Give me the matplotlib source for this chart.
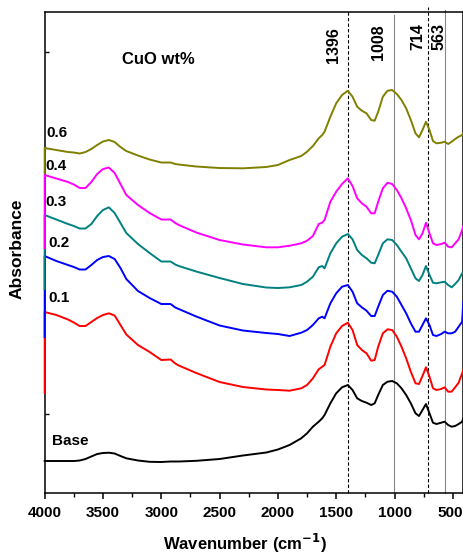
import numpy as np
import matplotlib
matplotlib.use("Agg")
from matplotlib import pyplot as plt
from matplotlib import transforms
from matplotlib.ticker import MultipleLocator

plt.rcParams['font.family'] = ['Liberation Sans', 'DejaVu Sans']
plt.rcParams['font.weight'] = 'bold'

# FTIR spectra, offset vertically (absorbance, arbitrary units)
wavenumber = [4000, 3900, 3800, 3750, 3700, 3650, 3600, 3550, 3500, 3450,
              3400, 3350, 3300, 3200, 3100, 3000, 2920, 2880, 2850, 2700,
              2500, 2300, 2100, 2000,
              1900, 1800, 1750, 1700, 1650, 1620, 1600, 1550, 1500, 1450,
              1400, 1360, 1320, 1280, 1240, 1200, 1170, 1140, 1100, 1060,
              1020, 980, 940, 900, 860, 820, 790, 760, 730, 700,
              670, 640, 600, 570, 540, 510, 480, 450, 420, 410]

base = [0.32, 0.32, 0.32, 0.32, 0.325, 0.34, 0.365, 0.39, 0.40, 0.403,
        0.395, 0.37, 0.347, 0.325, 0.312, 0.31, 0.315, 0.315, 0.315, 0.322,
        0.34, 0.375, 0.405, 0.435,
        0.48, 0.547, 0.597, 0.663, 0.713, 0.747, 0.78, 0.897, 0.997, 1.057,
        1.08, 1.03, 0.947, 0.92, 0.903, 0.88, 0.897, 0.98, 1.08, 1.113,
        1.12, 1.097, 1.047, 0.98, 0.897, 0.797, 0.77, 0.83, 0.89, 0.797,
        0.703, 0.69, 0.703, 0.713, 0.68, 0.663, 0.67, 0.69, 0.713, 0.747]

cuo_01 = [1.81, 1.78, 1.735, 1.705, 1.67, 1.67, 1.71, 1.75, 1.78, 1.797,
          1.775, 1.68, 1.585, 1.48, 1.41, 1.33, 1.335, 1.295, 1.275, 1.20,
          1.11, 1.06, 1.035, 1.03,
          1.023, 1.047, 1.08, 1.147, 1.237, 1.263, 1.28, 1.463, 1.597, 1.67,
          1.703, 1.63, 1.48, 1.43, 1.397, 1.323, 1.33, 1.463, 1.597, 1.637,
          1.63, 1.563, 1.463, 1.347, 1.213, 1.097, 1.09, 1.17, 1.257, 1.163,
          1.047, 1.03, 1.04, 1.057, 1.013, 1.013, 1.057, 1.103, 1.197, 1.23]

cuo_02 = [2.37, 2.32, 2.28, 2.26, 2.235, 2.235, 2.28, 2.33, 2.36, 2.37,
          2.34, 2.25, 2.14, 2.02, 1.95, 1.89, 1.89, 1.855, 1.84, 1.765,
          1.675, 1.625, 1.60, 1.59,
          1.57, 1.603, 1.63, 1.68, 1.747, 1.763, 1.747, 1.897, 1.997, 2.063,
          2.08, 2.013, 1.897, 1.857, 1.823, 1.77, 1.77, 1.863, 1.98, 2.023,
          2.013, 1.963, 1.88, 1.797, 1.697, 1.613, 1.613, 1.68, 1.747, 1.68,
          1.58, 1.57, 1.59, 1.613, 1.597, 1.597, 1.613, 1.663, 1.713, 1.913]

cuo_03 = [2.78, 2.735, 2.69, 2.67, 2.645, 2.645, 2.69, 2.77, 2.83, 2.857,
          2.80, 2.70, 2.60, 2.49, 2.40, 2.315, 2.315, 2.285, 2.27, 2.215,
          2.15, 2.09, 2.055, 2.05,
          2.057, 2.08, 2.113, 2.163, 2.257, 2.27, 2.247, 2.397, 2.497, 2.563,
          2.59, 2.537, 2.43, 2.38, 2.347, 2.303, 2.297, 2.38, 2.497, 2.537,
          2.53, 2.48, 2.413, 2.347, 2.247, 2.147, 2.12, 2.18, 2.27, 2.18,
          2.103, 2.097, 2.107, 2.113, 2.08, 2.057, 2.09, 2.13, 2.197, 2.21]

cuo_04 = [3.18, 3.145, 3.11, 3.085, 3.05, 3.05, 3.11, 3.19, 3.24, 3.255,
          3.20, 3.09, 2.98, 2.88, 2.80, 2.735, 2.735, 2.70, 2.68, 2.605,
          2.53, 2.485, 2.457, 2.457,
          2.473, 2.497, 2.523, 2.57, 2.69, 2.703, 2.73, 2.913, 3.013, 3.09,
          3.147, 3.07, 2.947, 2.897, 2.863, 2.797, 2.797, 2.913, 3.047, 3.103,
          3.09, 3.03, 2.947, 2.847, 2.73, 2.58, 2.537, 2.597, 2.703, 2.597,
          2.497, 2.48, 2.49, 2.503, 2.463, 2.457, 2.497, 2.537, 2.63, 2.67]

cuo_06 = [3.45, 3.43, 3.41, 3.405, 3.395, 3.41, 3.44, 3.48, 3.515, 3.53,
          3.51, 3.46, 3.42, 3.375, 3.335, 3.305, 3.305, 3.29, 3.285, 3.265,
          3.25, 3.247, 3.26, 3.28,
          3.33, 3.37, 3.413, 3.47, 3.547, 3.58, 3.613, 3.763, 3.897, 3.98,
          4.023, 3.963, 3.863, 3.823, 3.797, 3.73, 3.723, 3.813, 3.963, 4.023,
          4.03, 3.99, 3.93, 3.847, 3.73, 3.597, 3.557, 3.63, 3.713, 3.63,
          3.52, 3.497, 3.503, 3.513, 3.49, 3.513, 3.54, 3.563, 3.58, 3.60]

# first recorded point of each trace (drop at 4000 cm-1)
edge_low = {'0.1': 1.00, '0.2': 1.56, '0.3': 2.04, '0.4': 2.45, '0.6': 3.20}

series = [('Base', base, 'black'),
          ('0.1', cuo_01, 'red'),
          ('0.2', cuo_02, 'blue'),
          ('0.3', cuo_03, '#008080'),
          ('0.4', cuo_04, 'magenta'),
          ('0.6', cuo_06, '#808000')]

label_pos = {'0.6': (0.005, 0.749), '0.4': (0.001, 0.680), '0.3': (0.001, 0.606),
             '0.2': (0.009, 0.520), '0.1': (0.009, 0.405), 'Base': (0.017, 0.109)}

peaks = [1396, 1008, 714, 563]
peak_styles = {1396: ('black', (0, (3, 2)), 1.002),
               1008: ('#888888', '-', 0.994),
               714: ('black', (0, (3, 2)), 1.010),
               563: ('#888888', '-', 1.004)}
peak_label_pos = {1396: (0.689, 0.931), 1008: (0.797, 0.938),
                  714: (0.892, 0.950), 563: (0.943, 0.950)}

xticks = [4000, 3500, 3000, 2500, 2000, 1500, 1000, 500]

fig = plt.figure(figsize=(4.64, 5.54), dpi=100)
ax = fig.add_axes([0.0963, 0.1101, 0.9022, 0.8682])

for name, vals, col in series:
    x = list(wavenumber)
    y = list(vals)
    if name in edge_low:
        x = [4000] + x
        y = [edge_low[name]] + y
    ax.plot(x, y, color=col, lw=1.4, clip_on=False, zorder=3,
            solid_joinstyle='round')
    fx, fy = label_pos[name]
    ax.text(fx, fy, name, transform=ax.transAxes, ha='left', va='center',
            fontsize=11, fontweight='bold')

trans = ax.get_xaxis_transform()
for p in peaks:
    col, ls, top = peak_styles[p]
    ax.plot([p, p], [0, top], color=col, ls=ls, lw=0.8, transform=trans,
            clip_on=False, zorder=2)
    fx, fy = peak_label_pos[p]
    ax.text(fx, fy, str(p), transform=ax.transAxes, rotation=90,
            ha='center', va='center', fontsize=11.5, fontweight='bold')

ax.text(0.272, 0.902, 'CuO wt%', transform=ax.transAxes, ha='center',
        va='center', fontsize=12, fontweight='bold')

ax.set_xlim(4000, 410)
ax.set_ylim(0, 4.81)
ax.set_xticks(xticks, labels=[str(t) for t in xticks])
ax.xaxis.set_minor_locator(MultipleLocator(250))
ax.tick_params(axis='x', which='major', direction='out', length=4, width=1.1,
               labelsize=11, pad=5)
ax.tick_params(axis='x', which='minor', direction='out', length=3, width=1.0)
ax.set_yticks([0.79, 4.41])
ax.tick_params(axis='y', direction='in', length=3, width=1.0, labelleft=False)
for s in ax.spines.values():
    s.set_linewidth(1.1)

ticklabels = ax.get_xticklabels()
for lab in ticklabels:
    lab.set_fontweight('bold')
# nudge the 500 label so it stays inside the figure
last = ticklabels[xticks.index(500)]
shift = transforms.ScaledTranslation(-3 / 100, 0, fig.dpi_scale_trans)
last.set_transform(last.get_transform() + shift)

ax.set_xlabel('Wavenumber (cm$^{\\mathbf{-1}}$)', fontsize=12, fontweight='bold')
ax.xaxis.set_label_coords(0.478, -0.080)
ax.set_ylabel('Absorbance', fontsize=12.5, fontweight='bold')
ax.yaxis.set_label_coords(-0.047, 0.507)

fig.savefig('out.png', dpi=100)
